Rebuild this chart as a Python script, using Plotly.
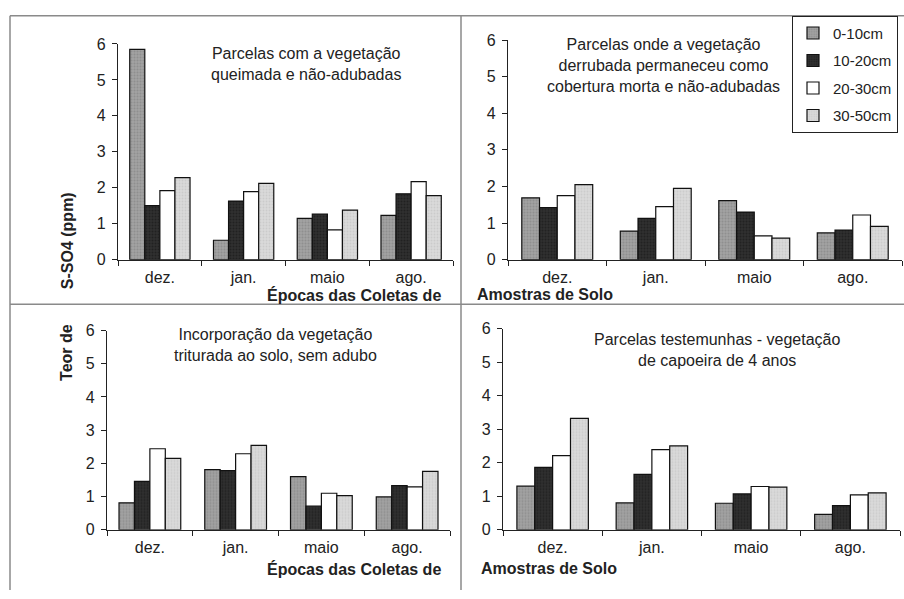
import plotly.graph_objects as go

months = ["dez.", "jan.", "maio", "ago."]
depths = ["0-10cm", "10-20cm", "20-30cm", "30-50cm"]

# values per panel: [depth][month]
p1 = [
    [5.85, 0.54, 1.15, 1.23],
    [1.50, 1.63, 1.27, 1.83],
    [1.92, 1.89, 0.83, 2.17],
    [2.28, 2.12, 1.38, 1.78],
]
p2 = [
    [1.69, 0.78, 1.61, 0.73],
    [1.42, 1.13, 1.30, 0.81],
    [1.75, 1.45, 0.65, 1.22],
    [2.05, 1.95, 0.59, 0.91],
]
p3 = [
    [0.81, 1.81, 1.60, 0.99],
    [1.46, 1.78, 0.71, 1.33],
    [2.44, 2.29, 1.10, 1.29],
    [2.15, 2.54, 1.03, 1.76],
]
p4 = [
    [1.30, 0.80, 0.79, 0.46],
    [1.86, 1.65, 1.07, 0.72],
    [2.21, 2.39, 1.29, 1.04],
    [3.32, 2.50, 1.27, 1.10],
]
panels = [p1, p2, p3, p4]

panel_titles = [
    "Parcelas com a vegetação<br>queimada e não-adubadas",
    "Parcelas onde a vegetação<br>derrubada permaneceu como<br>cobertura morta e não-adubadas",
    "Incorporação da vegetação<br>triturada ao solo, sem adubo",
    "Parcelas testemunhas - vegetação<br>de capoeira de 4 anos",
]
y_ticks = [0, 1, 2, 3, 4, 5, 6]

W, H = 904, 599
FONT = "Liberation Sans, Arial, Helvetica, sans-serif"

bg = ["#a2a2a2", "#303030", "#ffffff", "#dadada"]
fg = ["#7a7a7a", "#111111", "#ffffff", "#bcbcbc"]

# pixel boxes (x0, x1, ytop, ybottom)
boxes = [
    (118, 453, 37, 259),
    (508, 902, 33, 259),
    (107, 450, 332, 537),
    (503, 900, 330, 537),
]

def px(x):
    return x / W

def py(y):
    return 1 - y / H

fig = go.Figure()
for i, data in enumerate(panels):
    n = i + 1
    for d in range(4):
        fig.add_trace(go.Bar(
            x=months, y=data[d], name=depths[d],
            xaxis=f"x{n}" if n > 1 else "x",
            yaxis=f"y{n}" if n > 1 else "y",
            marker=dict(color=bg[d], line=dict(color="#111111", width=1.2),
                        pattern=dict(shape="." if d != 2 else "", fgcolor=fg[d],
                                     bgcolor=bg[d], size=3, solidity=0.35)),
            showlegend=(i == 0), legendgroup=depths[d],
        ))

layout = dict(
    width=W, height=H, margin=dict(l=0, r=0, t=0, b=0),
    paper_bgcolor="white", plot_bgcolor="white",
    font=dict(family=FONT, size=16, color="#222222"),
    barmode="group", bargap=0.28, bargroupgap=0,
    legend=dict(x=px(898), y=py(8), xanchor="right", yanchor="top",
                bordercolor="#222222", borderwidth=1, bgcolor="white",
                font=dict(size=15, family=FONT), tracegroupgap=5,
                itemwidth=30, traceorder="grouped"),
)
for i, (x0, x1, yt, yb) in enumerate(boxes):
    n = i + 1
    xk = "xaxis" if n == 1 else f"xaxis{n}"
    yk = "yaxis" if n == 1 else f"yaxis{n}"
    layout[xk] = dict(domain=[px(x0), px(x1)], range=[-0.5, 3.5], type="category",
                      anchor="y" if n == 1 else f"y{n}",
                      showline=True, linecolor="#222222", linewidth=1.2,
                      ticks="outside", tickson="boundaries", ticklen=5,
                      tickcolor="#222222", showgrid=False, zeroline=False,
                      ticklabelstandoff=3, tickfont=dict(size=16))
    layout[yk] = dict(domain=[py(yb), py(yt)], range=[0, 6],
                      anchor="x" if n == 1 else f"x{n}",
                      showline=True, linecolor="#222222", linewidth=1.2,
                      ticks="outside", ticklen=5, tickcolor="#222222",
                      tickvals=y_ticks, showgrid=False, zeroline=False,
                      ticklabelstandoff=3, tickfont=dict(size=16))
fig.update_layout(**layout)

# panel annotations
ann_pos = [(306, 58), (663, 59), (275, 347), (717, 352)]
for (ax, ay), t in zip(ann_pos, panel_titles):
    fig.add_annotation(x=px(ax), y=py(ay), xref="paper", yref="paper",
                       xanchor="center", yanchor="middle",
                       text=t, showarrow=False, align="center",
                       font=dict(size=16, color="#222222"))

# axis titles
bold = dict(size=16, color="#222222", family=FONT)
for yy in (295, 577):
    fig.add_annotation(x=px(443), y=py(yy), xref="paper", yref="paper",
                       text="<b>Épocas das Coletas de</b>", showarrow=False,
                       xanchor="right", yanchor="middle", font=bold)
fig.add_annotation(x=px(475), y=py(295), xref="paper", yref="paper",
                   text="<b>Amostras de Solo</b>", showarrow=False,
                   xanchor="left", yanchor="middle", font=bold)
fig.add_annotation(x=px(479), y=py(577), xref="paper", yref="paper",
                   text="<b>Amostras de Solo</b>", showarrow=False,
                   xanchor="left", yanchor="middle", font=bold)
fig.add_annotation(x=px(67), y=py(240), xref="paper", yref="paper",
                   text="<b>S-SO4 (ppm)</b>", showarrow=False, textangle=-90,
                   xanchor="center", yanchor="middle", font=bold)
fig.add_annotation(x=px(67), y=py(355), xref="paper", yref="paper",
                   text="<b>Teor de</b>", showarrow=False, textangle=-90,
                   xanchor="center", yanchor="middle", font=bold)

# frame lines
frame = dict(color="#8a8a8a", width=1.5)
fig.add_shape(type="line", xref="paper", yref="paper", x0=px(10), x1=1, y0=py(8), y1=py(8), line=frame)
fig.add_shape(type="line", xref="paper", yref="paper", x0=px(10), x1=px(10), y0=py(8), y1=0, line=frame)
fig.add_shape(type="line", xref="paper", yref="paper", x0=px(461), x1=px(461), y0=py(8), y1=0, line=frame)
fig.add_shape(type="line", xref="paper", yref="paper", x0=px(10), x1=1, y0=py(305), y1=py(305), line=frame)

fig.write_html("out.html", config={"displayModeBar": False},
               post_script="document.body.style.margin='0';document.body.style.overflow='hidden';")
